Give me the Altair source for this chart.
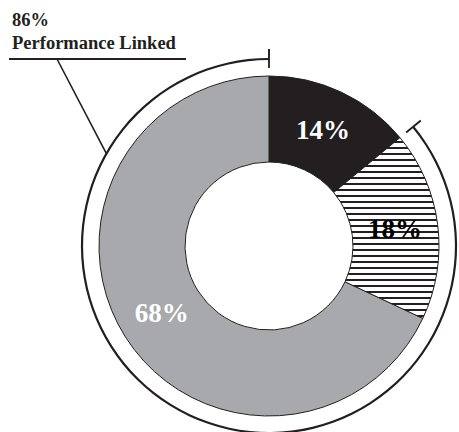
import math
import altair as alt
import pandas as pd

# Slice shares (percent), in clockwise order from 12 o'clock
segment_ids = ["fixed", "hatched", "grey"]
shares = [14, 18, 68]
slice_labels = ["14%", "18%", "68%"]
label_colors = ["white", "black", "white"]
callout_lines = [f"{shares[1] + shares[2]}%", "Performance Linked"]

# Layout (pixels)
W, H = 459, 432
CX, CY = 269, 246
R_IN, R_OUT = 84, 170
R_BRACKET = 187
R_LABEL = 127
SERIF = "Liberation Serif"
INK = "#231f20"

starts, ends = [], []
acc = 0
for s in shares:
    starts.append(acc)
    acc += s
    ends.append(acc)

df = pd.DataFrame({
    "id": segment_ids,
    "start": starts,
    "end": ends,
    "mid": [(a + b) / 2 for a, b in zip(starts, ends)],
    "label": slice_labels,
    "lc": label_colors,
})

theta_scale = alt.Scale(domain=[0, 100], range=[0, 2 * math.pi])
theta = alt.Theta("start:Q", scale=theta_scale)
theta2 = alt.Theta2("end:Q")

# Horizontal hatching for the middle slice as a hard-stop vertical gradient.
a0 = math.radians(starts[1] * 3.6)
a1 = math.radians(ends[1] * 3.6)
bb_top = CY - R_OUT * math.cos(a0)
bb_bot = CY - R_OUT * math.cos(a1)
bb_h = bb_bot - bb_top
pitch, lw, first = 6.0, 1.3, 3.7
stops = [alt.GradientStop(offset=0, color="white")]
y = first
while y + lw < bb_h:
    o0, o1 = y / bb_h, (y + lw) / bb_h
    stops += [
        alt.GradientStop(offset=o0, color="white"),
        alt.GradientStop(offset=o0, color=INK),
        alt.GradientStop(offset=o1, color=INK),
        alt.GradientStop(offset=o1, color="white"),
    ]
    y += pitch
stops.append(alt.GradientStop(offset=1, color="white"))
hatch = alt.LinearGradient(gradient="linear", x1=0, y1=0, x2=0, y2=1, stops=stops)

base = alt.Chart(df).encode(x=alt.value(CX), y=alt.value(CY))

solid = base.transform_filter(alt.datum.id != "hatched").mark_arc(
    innerRadius=R_IN, outerRadius=R_OUT, stroke=INK, strokeWidth=1
).encode(
    theta=theta, theta2=theta2,
    fill=alt.Fill("id:N", scale=alt.Scale(domain=["fixed", "grey"],
                                           range=[INK, "#a7a9ac"]), legend=None),
)

hatched = base.transform_filter(alt.datum.id == "hatched").mark_arc(
    innerRadius=R_IN, outerRadius=R_OUT, stroke=INK, strokeWidth=1, fill=hatch
).encode(theta=theta, theta2=theta2)

labels = base.mark_text(
    font=SERIF, fontWeight="bold", fontSize=27, align="center", baseline="middle"
).encode(
    theta=alt.Theta("mid:Q", scale=theta_scale),
    radius=alt.value(R_LABEL),
    text="label:N",
    color=alt.Color("lc:N", scale=None),
)

# Bracket spanning the performance-linked slices
bracket_df = pd.DataFrame({"start": [starts[1]], "end": [ends[2]]})
bracket = alt.Chart(bracket_df).mark_arc(
    innerRadius=R_BRACKET - 1.1, outerRadius=R_BRACKET + 1.1, fill=INK
).encode(x=alt.value(CX), y=alt.value(CY), theta=theta, theta2=theta2)

tick_df = pd.DataFrame({"start": [starts[1] - 0.08, ends[2] - 0.08],
                        "end": [starts[1] + 0.08, ends[2] + 0.08]})
ticks = alt.Chart(tick_df).mark_arc(
    innerRadius=R_BRACKET - 9, outerRadius=R_BRACKET + 10, fill=INK
).encode(x=alt.value(CX), y=alt.value(CY), theta=theta, theta2=theta2)

# Callout text with underline and leader to the bracket
callout_df = pd.DataFrame({"text": callout_lines})
callout_style = dict(font=SERIF, fontWeight="bold", fontSize=18.5, align="left",
                     baseline="alphabetic", color=INK)
callout_top = alt.Chart(callout_df.iloc[[0]]).mark_text(**callout_style).encode(
    x=alt.value(12), y=alt.value(26), text="text:N"
)
callout_bottom = alt.Chart(callout_df.iloc[[1]]).mark_text(**callout_style).encode(
    x=alt.value(12), y=alt.value(48.5), text="text:N"
)

underline = alt.Chart(callout_df.iloc[[0]]).mark_rule(color=INK, strokeWidth=2).encode(
    x=alt.value(9), x2=alt.value(186), y=alt.value(59)
)

lead_deg = 360 - 60.4
lx1 = CX + R_BRACKET * math.sin(math.radians(lead_deg))
ly1 = CY - R_BRACKET * math.cos(math.radians(lead_deg))
leader = alt.Chart(callout_df.iloc[[0]]).mark_rule(color=INK, strokeWidth=1.6).encode(
    x=alt.value(57), y=alt.value(59), x2=alt.value(lx1), y2=alt.value(ly1)
)

chart = alt.layer(
    bracket, ticks, solid, hatched, labels, underline, leader,
    callout_top, callout_bottom
).properties(
    width=W, height=H, autosize=alt.AutoSizeParams(type="none"), padding=0
).configure_view(stroke=None)

chart.save("out.html", embed_options={"renderer": "svg", "actions": False})
